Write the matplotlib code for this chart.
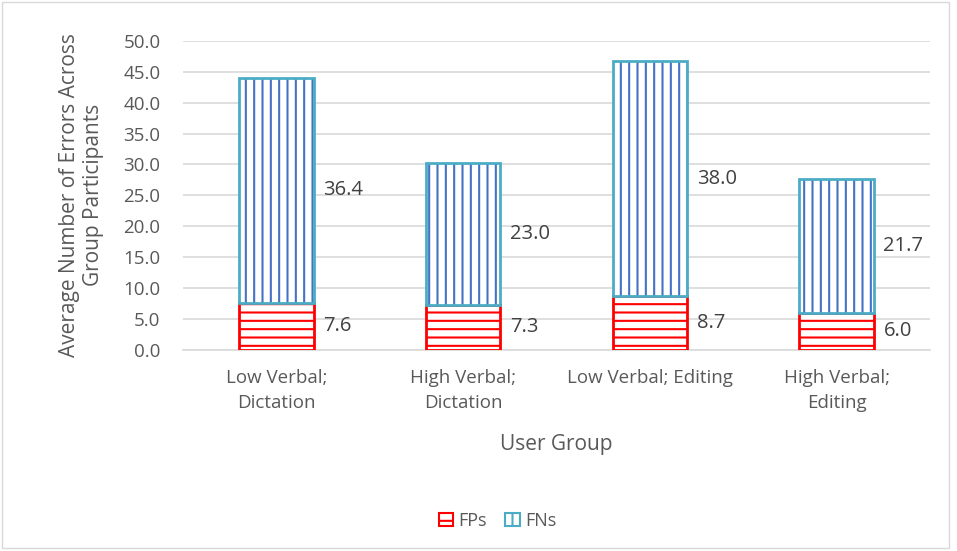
import matplotlib.pyplot as plt
from matplotlib.patches import Rectangle
import numpy as np

plt.rcParams['font.family'] = ['Open Sans', 'DejaVu Sans']
plt.rcParams['hatch.linewidth'] = 1.5

groups = ['Low Verbal;\nDictation', 'High Verbal;\nDictation', 'Low Verbal; Editing', 'High Verbal;\nEditing']
fps = [7.6, 7.3, 8.7, 6.0]
fns = [36.4, 23.0, 38.0, 21.7]

fig = plt.figure(figsize=(9.57, 5.51), dpi=100)
ax = fig.add_axes([0.191, 0.365, 0.781, 0.561])

x = np.arange(len(groups))
w = 0.40

# FPs: red outline, red horizontal hatch
ax.bar(x, fps, w, color='white', edgecolor='#FF0000', hatch='--', linewidth=2, zorder=3)
# FNs: dark blue vertical hatch, light blue outline drawn separately
ax.bar(x, fns, w, bottom=fps, color='white', edgecolor='#4472C4', hatch='||', linewidth=0, zorder=3)
ax.bar(x, fns, w, bottom=fps, color='none', edgecolor='#4BACC6', linewidth=2, zorder=4)

for i in range(len(groups)):
    ax.text(x[i] + w / 2 + 0.05, fps[i] / 2, '%.1f' % fps[i], va='center', ha='left', fontsize=14.5, color='#404040')
    ax.text(x[i] + w / 2 + 0.05, fps[i] + fns[i] / 2, '%.1f' % fns[i], va='center', ha='left', fontsize=14.5, color='#404040')

ax.set_xlim(-0.5, 3.5)
ax.set_ylim(0, 50)
ax.set_yticks(np.arange(0, 51, 5))
ax.set_yticklabels(['%.1f' % v for v in np.arange(0, 51, 5)])
ax.set_xticks(x)
ax.set_xticklabels(groups, linespacing=1.45)
ax.tick_params(axis='both', length=0, labelsize=13.5, labelcolor='#595959')
ax.tick_params(axis='y', pad=16)
ax.tick_params(axis='x', pad=14)
ax.yaxis.grid(True, color='#D9D9D9', linewidth=1.2, zorder=0)
ax.set_axisbelow(True)
for s in ['top', 'right', 'left']:
    ax.spines[s].set_visible(False)
ax.spines['bottom'].set_color('#D9D9D9')
ax.spines['bottom'].set_linewidth(1.2)

ax.set_ylabel('Average Number of Errors Across\nGroup Participants', fontsize=15, color='#595959', labelpad=14)
ax.set_xlabel('User Group', fontsize=15, color='#595959', labelpad=16)

fp_h = Rectangle((0, 0), 1, 1, facecolor='white', edgecolor='#FF0000', hatch='--', linewidth=1.5)
fn_h = Rectangle((0, 0), 1, 1, facecolor='white', edgecolor='#4BACC6', hatch='||', linewidth=1.5)
fig.legend([fp_h, fn_h], ['FPs', 'FNs'], loc='center', bbox_to_anchor=(0.52, 0.055), ncol=2,
           frameon=False, fontsize=13, handlelength=0.8, handleheight=0.8, handletextpad=0.3,
           columnspacing=1.0, labelcolor='#595959')

fig.patches.append(Rectangle((0.002, 0.006), 0.99, 0.99, transform=fig.transFigure,
                             fill=False, edgecolor='#D9D9D9', linewidth=1))

plt.savefig('out.png', dpi=100)
